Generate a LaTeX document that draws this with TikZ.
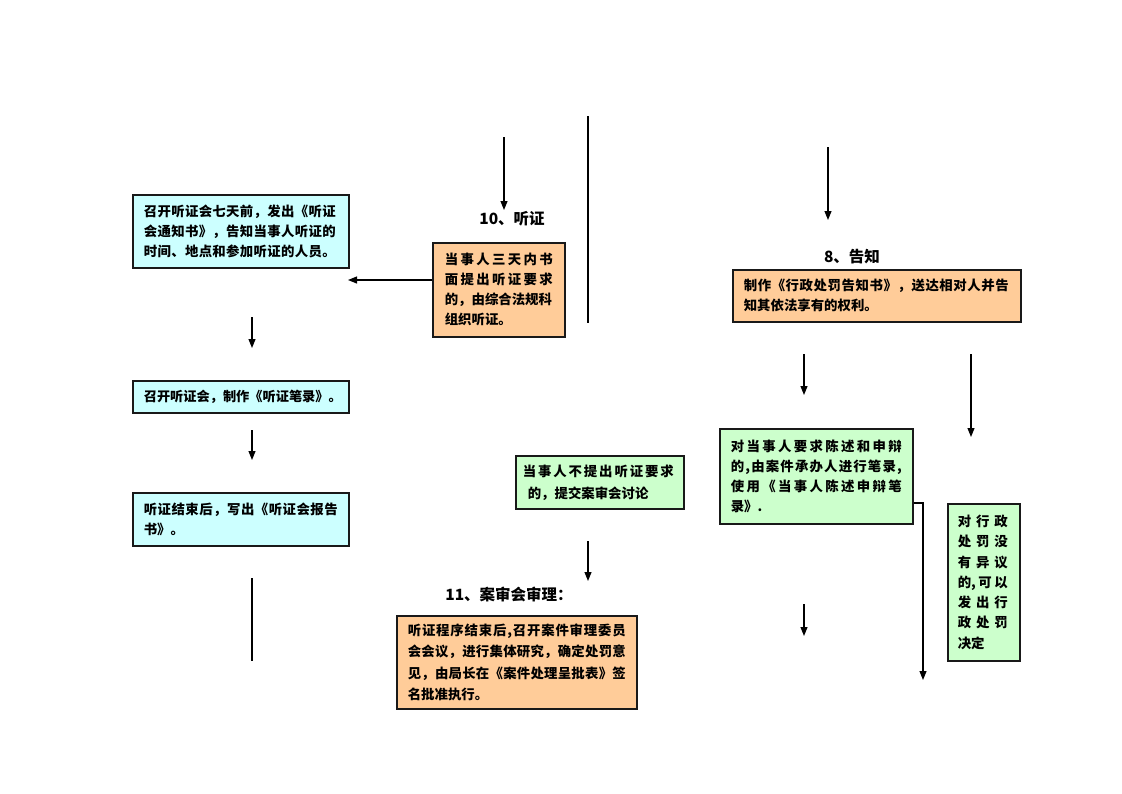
\documentclass[tikz,border=0pt]{standalone}
\usepackage{fontspec}
\setmainfont{Noto Sans CJK SC}
\usetikzlibrary{arrows.meta}
\definecolor{cyanbox}{HTML}{CCFFFF}
\definecolor{orangebox}{HTML}{FFCC99}
\definecolor{greenbox}{HTML}{CCFFCC}
\makeatletter
\newcommand\spreadline[2]{\makebox[#1pt][l]{\def\spsep{}\@tfor\spch:=#2\do{\spsep\spch\def\spsep{\hfill}}}}
\makeatother
\tikzset{
  box/.style={draw=black!90, line width=1.6pt, anchor=north west, inner xsep=11pt, inner ysep=0pt, align=left, font=\bfseries\fontsize{13.4}{20}\selectfont},
  arr/.style={line width=1.1pt, -{Triangle[length=9pt,width=7pt]}},
  ln/.style={line width=1.1pt},
  ttl/.style={font=\bfseries\fontsize{15.5}{18}\selectfont, inner sep=0pt}
}
\begin{document}
\begin{tikzpicture}[x=1pt,y=-1pt]
\useasboundingbox (0,0) rectangle (1122,793);
% boxes
\node[box, fill=cyanbox, minimum width=216pt, minimum height=73pt, text width=194pt] (c1) at (132,194)
 {\spreadline{192}{召开听证会七天前，发出《听证}\\ \spreadline{192}{会通知书》，告知当事人听证的}\\ \spreadline{192}{时间、地点和参加听证的人员。}};
\node[box, fill=orangebox, minimum width=132pt, minimum height=94pt, inner xsep=12pt, text width=108pt] (o1) at (432,242)
 {\spreadline{108}{当事人三天内书}\\ \spreadline{108}{面提出听证要求}\\ 的，由综合法规科\\ 组织听证。};
\node[box, fill=cyanbox, minimum width=216pt, minimum height=32pt, text width=194pt, font=\bfseries\fontsize{13.2}{20}\selectfont] (c2) at (132,380)
 {召开听证会，制作《听证笔录》。};
\node[box, fill=cyanbox, minimum width=216pt, minimum height=53pt, text width=194pt] (c3) at (132,492)
 {\spreadline{194}{听证结束后，写出《听证会报告}\\ 书》。};
\node[box, fill=orangebox, minimum width=288pt, minimum height=52pt, text width=266pt] (o2) at (732,269)
 {\spreadline{265}{制作《行政处罚告知书》，送达相对人并告}\\ 知其依法享有的权利。};
\node[box, fill=greenbox, minimum width=193pt, minimum height=95pt, text width=171pt] (g1) at (719,428)
 {\spreadline{171}{对当事人要求陈述和申辩}\\ \spreadline{171}{的,由案件承办人进行笔录,}\\ \spreadline{171}{使用《当事人陈述申辩笔}\\ 录》.};
\node[box, fill=greenbox, minimum width=72pt, minimum height=157pt, inner xsep=10pt, text width=52pt, font=\bfseries\fontsize{13.4}{20.3}\selectfont] (g2) at (947,503)
 {\spreadline{50}{对行政}\\ \spreadline{50}{处罚没}\\ \spreadline{50}{有异议}\\ \makebox[50pt][l]{的,\hfill 可\hfill 以}\\ \spreadline{50}{发出行}\\ \spreadline{50}{政处罚}\\ 决定};
\node[box, fill=greenbox, minimum width=168pt, minimum height=53pt, inner xsep=7pt, text width=154pt, font=\bfseries\fontsize{13.4}{22}\selectfont] (g3) at (515,455)
 {\spreadline{151}{当事人不提出听证要求}\\ \hspace*{5pt}的，提交案审会讨论};
\node[box, fill=orangebox, minimum width=240pt, minimum height=93pt, text width=218pt, font=\bfseries\fontsize{13.4}{21.5}\selectfont] (o3) at (396,615)
 {\spreadline{218}{听证程序结束后,召开案件审理委员}\\ \spreadline{218}{会会议，进行集体研究，确定处罚意}\\ \spreadline{218}{见，由局长在《案件处理呈批表》签}\\ 名批准执行。};
% titles
\node[ttl] (t10) at (512,219) {10、听证};
\node[ttl] (t8) at (852,257) {8、告知};
\node[ttl] (t11) at (509,594) {11、案审会审理：};
% coordinates
\coordinate (a1s) at (504,137); \coordinate (a1e) at (504,210);
\coordinate (l1s) at (588,116); \coordinate (l1e) at (588,323);
\coordinate (hl) at (348,280);
\coordinate (a2s) at (252,317); \coordinate (a2e) at (252,348);
\coordinate (a3s) at (252,430); \coordinate (a3e) at (252,460);
\coordinate (l2s) at (252,578); \coordinate (l2e) at (252,661);
\coordinate (a4s) at (828,147); \coordinate (a4e) at (828,220);
\coordinate (a5s) at (804,354); \coordinate (a5e) at (804,395);
\coordinate (a6s) at (971,354); \coordinate (a6e) at (971,437);
\coordinate (a7s) at (804,604); \coordinate (a7e) at (804,636);
\coordinate (a8s) at (588,541); \coordinate (a8e) at (588,581);
\coordinate (gk0) at (923,503); \coordinate (gk) at (923,680);
% connectors
\draw[arr] (a1s) -- (a1e);
\draw[ln] (l1s) -- (l1e);
\draw[arr] (o1.west |- hl) -- (hl);
\draw[arr] (a2s) -- (a2e);
\draw[arr] (a3s) -- (a3e);
\draw[ln] (l2s) -- (l2e);
\draw[arr] (a4s) -- (a4e);
\draw[arr] (a5s) -- (a5e);
\draw[arr] (a6s) -- (a6e);
\draw[arr] (a7s) -- (a7e);
\draw[arr] (a8s) -- (a8e);
\draw[arr] (g1.east |- gk0) -| (gk);
\end{tikzpicture}
\end{document}
